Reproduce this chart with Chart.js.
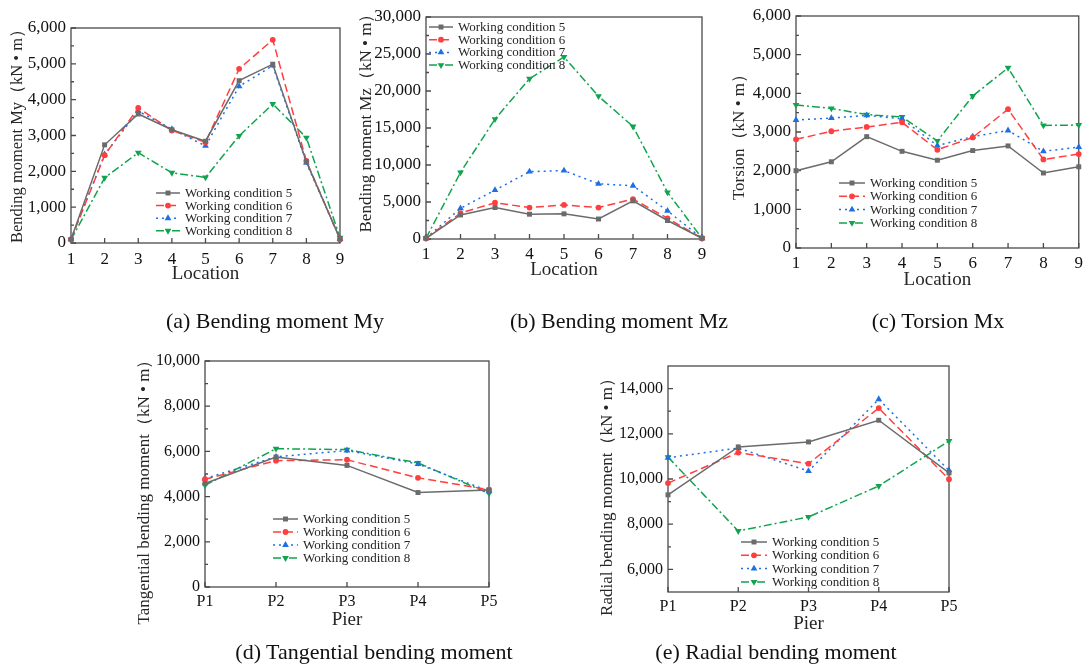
<!DOCTYPE html>
<html><head><meta charset="utf-8">
<script src="https://cdn.jsdelivr.net/npm/chart.js@4/dist/chart.umd.min.js"></script>
<style>
body{margin:0;background:#fff;width:1088px;height:667px;position:relative;overflow:hidden}
canvas{position:absolute}
.cap{position:absolute;font-family:"Liberation Serif","Times New Roman",serif;font-size:22px;color:#111;white-space:nowrap;transform:translate(-50%,-50%)}
</style></head><body>
<canvas id="ca" width="360" height="290" style="left:0;top:0"></canvas>
<canvas id="cb" width="365" height="290" style="left:355px;top:0"></canvas>
<canvas id="cc" width="363" height="295" style="left:725px;top:0"></canvas>
<canvas id="cd" width="380" height="310" style="left:130px;top:330px"></canvas>
<canvas id="ce" width="380" height="310" style="left:590px;top:330px"></canvas>
<div class="cap" style="left:275px;top:321px">(a) Bending moment My</div>
<div class="cap" style="left:619px;top:321px">(b) Bending moment Mz</div>
<div class="cap" style="left:938px;top:321px">(c) Torsion Mx</div>
<div class="cap" style="left:374px;top:652px">(d) Tangential bending moment</div>
<div class="cap" style="left:776px;top:652px">(e) Radial bending moment</div>
<script>
// ---------- data ----------
const seriesNames = ['Working condition 5','Working condition 6','Working condition 7','Working condition 8'];
const locations = ['1','2','3','4','5','6','7','8','9'];
const piers = ['P1','P2','P3','P4','P5'];

const myWC5 = [100, 2740, 3600, 3160, 2840, 4530, 4990, 2270, 120];
const myWC6 = [100, 2450, 3770, 3140, 2810, 4860, 5670, 2290, 100];
const myWC7 = [110, 2470, 3680, 3180, 2710, 4370, 4950, 2240, 110];
const myWC8 = [90, 1820, 2520, 1960, 1830, 2990, 3880, 2940, 150];

const mzWC5 = [100, 3250, 4250, 3350, 3400, 2700, 5150, 2500, 100];
const mzWC6 = [100, 3500, 4900, 4250, 4600, 4250, 5400, 2800, 100];
const mzWC7 = [100, 4150, 6600, 9100, 9250, 7450, 7200, 3800, 100];
const mzWC8 = [100, 9000, 16200, 21650, 24600, 19300, 15200, 6300, 100];

const mxWC5 = [2000, 2230, 2880, 2500, 2270, 2520, 2640, 1940, 2100];
const mxWC6 = [2810, 3020, 3130, 3250, 2540, 2860, 3590, 2290, 2430];
const mxWC7 = [3310, 3360, 3430, 3340, 2650, 2880, 3040, 2500, 2610];
const mxWC8 = [3700, 3610, 3450, 3390, 2770, 3930, 4660, 3170, 3180];

const tanWC5 = [4580, 5750, 5380, 4180, 4290];
const tanWC6 = [4770, 5590, 5630, 4830, 4310];
const tanWC7 = [4800, 5760, 6040, 5440, 4240];
const tanWC8 = [4500, 6120, 6080, 5490, 4140];

const radWC5 = [9300, 11420, 11640, 12600, 10270];
const radWC6 = [9820, 11170, 10680, 13140, 9990];
const radWC7 = [10940, 11370, 10350, 13530, 10380];
const radWC8 = [10970, 7700, 8320, 9690, 11680];

const ticksMy = [0, 1000, 2000, 3000, 4000, 5000, 6000];
const ticksMz = [0, 5000, 10000, 15000, 20000, 25000, 30000];
const ticksMx = [0, 1000, 2000, 3000, 4000, 5000, 6000];
const ticksTan = [0, 2000, 4000, 6000, 8000, 10000];
const ticksRad = [6000, 8000, 10000, 12000, 14000];

// ---------- styles ----------
const COLORS = ['#6b6b6b', '#ff3f3f', '#1e6fe3', '#12a34f'];
const DASHES = [[], [8, 4], [2, 4], [8, 3, 2, 3]];
const SHAPES = ['rect', 'circle', 'triangle', 'triangle'];
const ROTS = [0, 0, 0, 180];
const RADII = [3.5, 2.9, 3.9, 3.9];
const SERIF = '"Liberation Serif","Times New Roman",serif';

function drawMarker(ctx, shape, r, rot, x, y) {
  ctx.save();
  ctx.translate(x, y);
  ctx.rotate(rot * Math.PI / 180);
  ctx.beginPath();
  if (shape === 'circle') {
    ctx.arc(0, 0, r, 0, Math.PI * 2);
  } else if (shape === 'rect') {
    const s = r * Math.SQRT1_2;
    ctx.rect(-s, -s, 2 * s, 2 * s);
  } else {
    ctx.moveTo(0, -r);
    ctx.lineTo(r * 0.866, r * 0.5);
    ctx.lineTo(-r * 0.866, r * 0.5);
    ctx.closePath();
  }
  ctx.fill();
  ctx.restore();
}

const framePlugin = {
  id: 'frame',
  beforeDatasetsDraw(chart, args, o) {
    const {ctx, chartArea: a, scales: {x, y}} = chart;
    ctx.save();
    ctx.strokeStyle = '#4a4a4a';
    ctx.lineWidth = 1.3;
    ctx.strokeRect(a.left, a.top, a.right - a.left, a.bottom - a.top);
    ctx.beginPath();
    const vals = y.ticks.map(t => t.value);
    vals.forEach(v => {
      const py = y.getPixelForValue(v);
      ctx.moveTo(a.left, py); ctx.lineTo(a.left + 5, py);
    });
    const step = vals[1] - vals[0];
    const minors = [];
    for (let i = 0; i < vals.length - 1; i++) minors.push((vals[i] + vals[i + 1]) / 2);
    if (vals[0] - step / 2 > y.min) minors.push(vals[0] - step / 2);
    if (vals[vals.length - 1] + step / 2 < y.max) minors.push(vals[vals.length - 1] + step / 2);
    minors.forEach(v => {
      const py = y.getPixelForValue(v);
      ctx.moveTo(a.left, py); ctx.lineTo(a.left + 3, py);
    });
    x.ticks.forEach((t, i) => {
      const px = x.getPixelForTick(i);
      ctx.moveTo(px, a.bottom); ctx.lineTo(px, a.bottom - 5);
    });
    ctx.stroke();
    ctx.restore();
  },
  afterDatasetsDraw(chart, args, o) {
    const ctx = chart.ctx;
    const lg = o.legend;
    chart.data.datasets.forEach((d, i) => {
      const yy = lg.y + i * lg.dy;
      ctx.save();
      ctx.strokeStyle = d.borderColor;
      ctx.fillStyle = d.backgroundColor;
      ctx.lineWidth = d.borderWidth;
      ctx.setLineDash(d.borderDash || []);
      ctx.beginPath();
      ctx.moveTo(lg.x, yy); ctx.lineTo(lg.x + lg.len, yy);
      ctx.stroke();
      ctx.setLineDash([]);
      drawMarker(ctx, d.pointStyle, d.pointRadius, d.pointRotation || 0, lg.x + lg.len / 2, yy);
      ctx.fillStyle = '#262626';
      ctx.font = '13px ' + SERIF;
      ctx.textAlign = 'left';
      ctx.textBaseline = 'middle';
      ctx.fillText(d.label, lg.x + lg.len + 5, yy + 0.5);
      ctx.restore();
    });
    const yt = o.ytitle;
    ctx.save();
    ctx.translate(yt.x, yt.y);
    ctx.rotate(-Math.PI / 2);
    ctx.fillStyle = '#262626';
    ctx.font = yt.size + 'px ' + SERIF;
    ctx.textAlign = 'center';
    ctx.textBaseline = 'middle';
    ctx.fillText(yt.text, 0, 0);
    ctx.restore();
  }
};

function build(id, labels, series, yMin, yMax, yTicks, xTitle, g) {
  const datasets = series.map((d, i) => ({
    label: seriesNames[i], data: d,
    borderColor: COLORS[i], backgroundColor: COLORS[i],
    borderWidth: 1.5, borderDash: DASHES[i],
    pointStyle: SHAPES[i], pointRotation: ROTS[i], pointRadius: RADII[i],
    pointBorderWidth: 0, tension: 0, clip: false
  }));
  new Chart(document.getElementById(id), {
    type: 'line',
    data: {labels: labels, datasets: datasets},
    options: {
      responsive: false, animation: false, devicePixelRatio: 1,
      layout: {padding: {left: 0, top: g.top, right: g.right, bottom: 0}},
      plugins: {
        legend: {display: false}, tooltip: {enabled: false},
        frame: {legend: g.legend, ytitle: g.ytitle}
      },
      scales: {
        x: {
          type: 'category', offset: false,
          grid: {display: false, drawTicks: false, tickLength: 0}, border: {display: false},
          ticks: {font: {family: SERIF, size: g.tickSize}, color: '#111', padding: g.xpad, maxRotation: 0, autoSkip: false},
          title: {display: true, text: xTitle, color: '#262626', font: {family: SERIF, size: 19}, padding: {top: 0, bottom: g.xtb}},
          afterFit: s => { s.height = g.xh; }
        },
        y: {
          min: yMin, max: yMax,
          grid: {display: false, drawTicks: false, tickLength: 0}, border: {display: false},
          ticks: {font: {family: SERIF, size: g.tickSize}, color: '#111', padding: 5},
          afterBuildTicks: s => { s.ticks = yTicks.map(v => ({value: v})); },
          afterFit: s => { s.width = g.yw; }
        }
      }
    },
    plugins: [framePlugin]
  });
}

build('ca', locations, [myWC5, myWC6, myWC7, myWC8], 0, 6000, ticksMy, 'Location', {
  top: 28, right: 20, yw: 71, xh: 47, xpad: 6, xtb: 4.6, tickSize: 17,
  legend: {x: 156, y: 193, dy: 12.6, len: 24},
  ytitle: {text: 'Bending moment My（kN • m）', x: 18, y: 132, size: 16.5}
});
build('cb', locations, [mzWC5, mzWC6, mzWC7, mzWC8], 0, 30000, ticksMz, 'Location', {
  top: 17, right: 18, yw: 71, xh: 51, xpad: 5, xtb: 9, tickSize: 17,
  legend: {x: 74, y: 27, dy: 12.7, len: 24},
  ytitle: {text: 'Bending moment Mz（kN • m）', x: 12, y: 119, size: 17}
});
build('cc', locations, [mxWC5, mxWC6, mxWC7, mxWC8], 0, 6000, ticksMx, 'Location', {
  top: 16, right: 5, yw: 71, xh: 47, xpad: 5, xtb: 4, tickSize: 17,
  legend: {x: 114, y: 183, dy: 13.3, len: 26},
  ytitle: {text: 'Torsion（kN • m）', x: 15, y: 133, size: 17}
});
build('cd', piers, [tanWC5, tanWC6, tanWC7, tanWC8], 0, 10000, ticksTan, 'Pier', {
  top: 31, right: 21, yw: 75, xh: 53, xpad: 5.4, xtb: 9, tickSize: 16,
  legend: {x: 143, y: 189, dy: 13, len: 25},
  ytitle: {text: 'Tangential bending moment（kN • m）', x: 15, y: 158, size: 17}
});
build('ce', piers, [radWC5, radWC6, radWC7, radWC8], 5000, 15000, ticksRad, 'Pier', {
  top: 36, right: 21, yw: 78, xh: 48, xpad: 5.4, xtb: 5, tickSize: 16,
  legend: {x: 151, y: 212, dy: 13.3, len: 26},
  ytitle: {text: 'Radial bending moment（kN • m）', x: 18, y: 163, size: 17}
});
</script>
</body></html>
